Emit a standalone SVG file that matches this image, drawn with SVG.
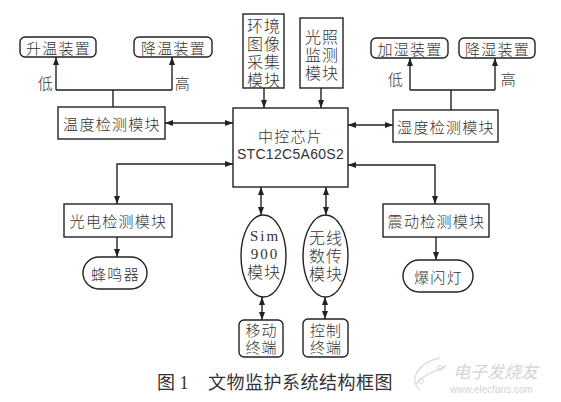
<svg xmlns="http://www.w3.org/2000/svg" width="561" height="402" viewBox="0 0 561 402">
<defs>
<marker id="ah" viewBox="0 0 8 6" refX="8" refY="3" markerWidth="8" markerHeight="6" markerUnits="userSpaceOnUse" orient="auto-start-reverse">
<path d="M0,0 L8,3 L0,6 z" fill="#222"/>
</marker>
<style>
.b{fill:#fff;stroke:#222;stroke-width:1.4}
.t{font-family:"Noto Sans CJK SC","Liberation Sans",sans-serif;font-size:15px;font-weight:300;fill:#333;text-anchor:middle;dominant-baseline:central;letter-spacing:1.3px}
.v{font-family:"Liberation Serif","Noto Sans CJK SC",serif;font-size:16px;font-weight:300;fill:#333;text-anchor:middle;letter-spacing:1px}
.w{font-size:15px}
.s{font-family:"Liberation Serif",serif;font-size:15px;fill:#333;letter-spacing:2px}
.l{fill:none;stroke:#222;stroke-width:1.4}
.a{marker-end:url(#ah)}
.d{marker-start:url(#ah);marker-end:url(#ah)}
.cap{font-family:"Liberation Serif","Noto Sans CJK SC",serif;font-size:18px;fill:#333}
.wm{font-family:"Noto Sans CJK SC",sans-serif;fill:#d4d4d4}
</style>
</defs>
<rect width="561" height="402" fill="#fff"/>
<g id="connectors">
<path class="l" d="M113,107 V90 M56,90 H172"/>
<path class="l a" d="M56,90 V57"/>
<path class="l a" d="M172,90 V57"/>
<path class="l" d="M451,110 V90 M410,90 H495"/>
<path class="l a" d="M410,90 V58"/>
<path class="l a" d="M495,90 V58"/>
<path class="l d" d="M165,123 H233"/>
<path class="l d" d="M348,125 H393"/>
<path class="l a" d="M264,88 V108"/>
<path class="l a" d="M321,88 V108"/>
<path class="l d" d="M233,164 H117 V204"/>
<path class="l d" d="M348,165 H435 V204"/>
<path class="l d" d="M261,187 V215"/>
<path class="l d" d="M326,187 V215"/>
<path class="l d" d="M262,297 V320"/>
<path class="l d" d="M325,297 V319"/>
<path class="l a" d="M117,237 V257"/>
<path class="l a" d="M436,237 V260"/>
<text class="t" x="46" y="82">低</text>
<text class="t" x="183" y="82">高</text>
<text class="t" x="396" y="78">低</text>
<text class="t" x="509" y="78">高</text>
</g>
<g id="temp">
<rect class="b" x="58" y="107" width="107" height="32"/>
<text class="t" x="112" y="123">温度检测模块</text>
</g>
<g id="heat">
<rect class="b" x="20" y="37" width="76" height="20" rx="5"/>
<text class="t" x="58.5" y="47">升温装置</text>
</g>
<g id="cool">
<rect class="b" x="134" y="37" width="78" height="20" rx="5"/>
<text class="t" x="173.5" y="47">降温装置</text>
</g>
<g id="chip">
<rect class="b" x="233" y="108" width="115" height="79"/>
<text class="t" x="290.5" y="135">中控芯片</text>
<text class="t" x="290.5" y="154" style="font-family:'Liberation Sans',sans-serif;font-size:14px;font-weight:normal;letter-spacing:0.3px">STC12C5A60S2</text>
</g>
<g id="image">
<rect class="b" x="243" y="14" width="41" height="74"/>
<text class="v" x="264" y="32"><tspan x="264" y="32">环境</tspan><tspan x="264" y="50">图像</tspan><tspan x="264" y="68">采集</tspan><tspan x="264" y="86">模块</tspan></text>
</g>
<g id="light">
<rect class="b" x="300" y="18" width="43" height="70"/>
<text class="v" x="322" y="43"><tspan x="322" y="43">光照</tspan><tspan x="322" y="61">监测</tspan><tspan x="322" y="79">模块</tspan></text>
</g>
<g id="humid">
<rect class="b" x="393" y="110" width="105" height="32"/>
<text class="t" x="446" y="126">湿度检测模块</text>
</g>
<g id="humadd">
<rect class="b" x="371" y="38" width="77" height="20" rx="5"/>
<text class="t" x="410" y="48">加湿装置</text>
</g>
<g id="humdown">
<rect class="b" x="459" y="38" width="76" height="20" rx="5"/>
<text class="t" x="497.5" y="48">降湿装置</text>
</g>
<g id="photo">
<rect class="b" x="64" y="204" width="108" height="33"/>
<text class="t" x="118.5" y="220.5">光电检测模块</text>
</g>
<g id="buzzer">
<rect class="b" x="83" y="257" width="64" height="32" rx="16"/>
<text class="t" x="115.5" y="273">蜂鸣器</text>
</g>
<g id="vibe">
<rect class="b" x="383" y="204" width="106" height="33"/>
<text class="t" x="436.5" y="220.5">震动检测模块</text>
</g>
<g id="flash">
<rect class="b" x="403" y="260" width="70" height="32" rx="16"/>
<text class="t" x="438.5" y="276">爆闪灯</text>
</g>
<g id="sim">
<ellipse class="b" cx="263.5" cy="256" rx="22.5" ry="41"/>
<text class="v" x="264" y="241"><tspan class="s" x="265" y="241">Sim</tspan><tspan class="s" x="265" y="259">900</tspan><tspan x="264" y="278">模块</tspan></text>
</g>
<g id="wireless">
<ellipse class="b" cx="325.5" cy="256" rx="22.5" ry="41"/>
<text class="v" x="326" y="244"><tspan x="326" y="244">无线</tspan><tspan x="326" y="262">数传</tspan><tspan x="326" y="280">模块</tspan></text>
</g>
<g id="mobile">
<rect class="b" x="239" y="320" width="44" height="37" rx="5"/>
<text class="v w" x="261.5" y="336"><tspan x="261.5" y="336">移动</tspan><tspan x="261.5" y="353">终端</tspan></text>
</g>
<g id="control">
<rect class="b" x="303" y="319" width="45" height="38" rx="5"/>
<text class="v w" x="326" y="336"><tspan x="326" y="336">控制</tspan><tspan x="326" y="353">终端</tspan></text>
</g>
<g id="caption">
<text class="cap" x="157" y="389">图 1</text>
<text class="cap" x="208" y="389" style="letter-spacing:0.5px">文物监护系统结构框图</text>
</g>
<g id="watermark">
<path d="M440,358 C418,362 408,380 420,390 M416,384 C426,372 436,372 446,366" fill="none" stroke="#dcdcdc" stroke-width="1.5"/>
<circle cx="421" cy="381" r="2.5" fill="none" stroke="#dcdcdc"/>
<circle cx="440" cy="368" r="2.5" fill="none" stroke="#dcdcdc"/>
<text class="wm" x="453" y="378" font-size="17" font-style="italic">电子发烧友</text>
<text class="wm" x="450" y="393" font-size="10" style="font-family:'Liberation Sans',sans-serif">www.elecfans.com</text>
</g>
</svg>
